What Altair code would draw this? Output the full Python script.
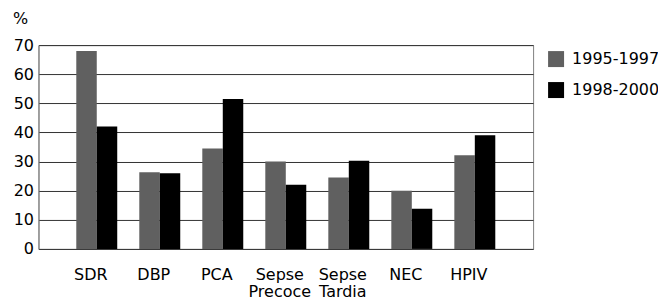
import altair as alt
import pandas as pd

categories = ["SDR", "DBP", "PCA", "Sepse Precoce", "Sepse Tardia", "NEC", "HPIV"]
periods = ["1995-1997", "1998-2000"]
values_1995 = [68, 26.3, 34.5, 30, 24.5, 20, 32.2]
values_1998 = [42, 26, 51.5, 22, 30.3, 13.8, 39]

rows = []
for c, a, b in zip(categories, values_1995, values_1998):
    rows.append({"cat": c, "period": periods[0], "value": a})
    rows.append({"cat": c, "period": periods[1], "value": b})
df = pd.DataFrame(rows)

FONT = "DejaVu Sans"

chart = alt.Chart(df).mark_bar().encode(
    x=alt.X("cat:N", sort=categories,
            scale=alt.Scale(paddingInner=0.35, paddingOuter=0.6),
            axis=alt.Axis(title=None, labelAngle=0, ticks=False, domain=False,
                          labelFontSize=16, labelPadding=18, labelLineHeight=17,
                          labelOffset=-6,
                          labelExpr="split(datum.label, ' ')", labelColor="#000",
                          labelFont=FONT)),
    xOffset=alt.XOffset("period:N", sort=periods),
    y=alt.Y("value:Q", scale=alt.Scale(domain=[0, 70]),
            axis=alt.Axis(values=[0, 10, 20, 30, 40, 50, 60, 70], ticks=False,
                          grid=True, gridColor="#333", gridWidth=1,
                          domainColor="#808080", labelFontSize=16, labelPadding=5,
                          labelColor="#000", labelFont=FONT,
                          title="%", titleAngle=0, titleAlign="left",
                          titleBaseline="alphabetic", titleX=-26, titleY=-22,
                          titleFontSize=16, titleFontWeight="normal", titleFont=FONT,
                          titleColor="#000")),
    color=alt.Color("period:N", sort=periods,
                    scale=alt.Scale(domain=periods, range=["#606060", "#000000"]),
                    legend=alt.Legend(title=None, orient="none", legendX=510, legendY=6,
                                      symbolType="square", symbolSize=256,
                                      symbolStrokeWidth=0, labelFontSize=16,
                                      labelFont=FONT, labelColor="#000",
                                      rowPadding=15, padding=0, labelOffset=8)),
).properties(
    width=495, height=204,
    autosize=alt.AutoSizeParams(type="none"),
    padding={"left": 30.5, "top": 37, "right": 125, "bottom": 52},
).configure_view(stroke="#808080", strokeWidth=1).configure_axisX(
    domainColor="#333"
)

chart.save("out.html", embed_options={"renderer": "svg", "actions": False})
